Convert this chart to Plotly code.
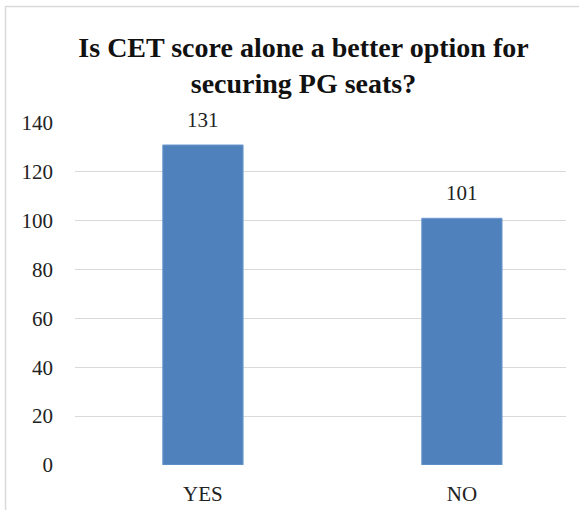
import plotly.graph_objects as go

# Survey responses
answers = ["YES", "NO"]
counts = [131, 101]
y_ticks = [0, 20, 40, 60, 80, 100, 120, 140]
title_lines = ["Is CET score alone a better option for", "securing PG seats?"]

W, H = 579, 510
L, R, T, B = 75, 13, 123, 45
plot_w = W - L - R
plot_h = H - T - B

bar_color = "#4F81BD"
grid_color = "#D9D9D9"
serif = "Liberation Serif"

fig = go.Figure()
fig.add_trace(go.Bar(
    x=answers,
    y=counts,
    width=0.31,
    marker=dict(color=bar_color, line=dict(color="#6F9AD0", width=1)),
    hoverinfo="skip",
))

# value labels above each bar
for a, v in zip(answers, counts):
    fig.add_annotation(
        x=a, y=v, text=str(v), showarrow=False,
        yanchor="bottom", yshift=11,
        font=dict(family=serif, size=21, color="#222222"),
    )

# light frame around the chart
def px_x(p):
    return (p - L) / plot_w

def px_y(p):
    return (H - B - p) / plot_h

fig.add_shape(
    type="rect", xref="paper", yref="paper",
    x0=px_x(5.5), x1=px_x(590), y0=px_y(520), y1=px_y(6.5),
    line=dict(color="#D9D9D9", width=1.5), fillcolor="rgba(0,0,0,0)",
    layer="below",
)

fig.update_layout(
    width=W, height=H,
    margin=dict(l=L, r=R, t=T, b=B, pad=0, autoexpand=False),
    paper_bgcolor="white",
    plot_bgcolor="white",
    showlegend=False,
    title=dict(
        text="<b>" + "<br>".join(title_lines) + "</b>",
        font=dict(family=serif, size=28, color="#111111"),
        xref="container", yref="container",
        x=303.5 / W, y=1 - 56.5 / H,
        xanchor="center", yanchor="middle",
        automargin=False,
    ),
    xaxis=dict(
        type="category",
        range=[-0.494, 1.402],
        showgrid=False, zeroline=False, showline=False,
        ticks="",
        automargin=False,
        ticklabelstandoff=14,
        tickfont=dict(family=serif, size=21, color="#222222"),
    ),
    yaxis=dict(
        range=[0, 140],
        tickvals=y_ticks,
        showgrid=True, gridcolor=grid_color, gridwidth=1,
        zeroline=False, showline=False,
        ticks="",
        automargin=False,
        ticklabelstandoff=21,
        tickfont=dict(family=serif, size=21, color="#222222"),
    ),
)

fig.write_html("out.html")
